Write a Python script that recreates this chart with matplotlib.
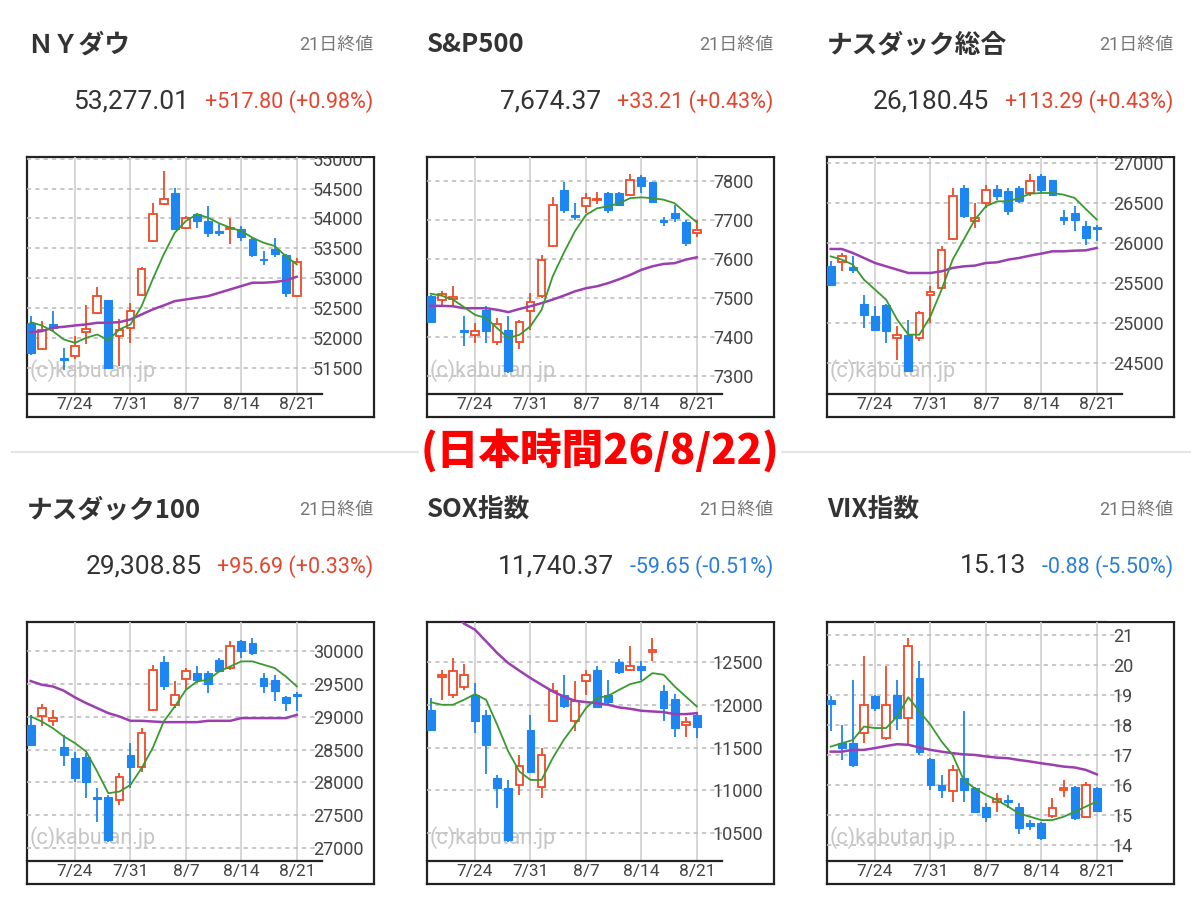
import matplotlib
matplotlib.use('Agg')
import matplotlib.pyplot as plt
from matplotlib.lines import Line2D
from matplotlib.patches import Rectangle
import numpy as np

plt.rcParams['font.family'] = ['Roboto', 'Noto Sans CJK JP', 'DejaVu Sans']
JP = ['Noto Sans CJK JP', 'DejaVu Sans']

W, H = 1200, 900

# ---- data -------------------------------------------------------------
dates = ['7/20', '7/21', '7/22', '7/23', '7/24', '7/27', '7/28', '7/29', '7/30', '7/31',
         '8/3', '8/4', '8/5', '8/6', '8/7', '8/10', '8/11', '8/12', '8/13', '8/14',
         '8/17', '8/18', '8/19', '8/20', '8/21']
tick_dates = ['7/24', '7/31', '8/7', '8/14', '8/21']

names = ['ＮＹダウ', 'S&P500', 'ナスダック総合', 'ナスダック100', 'SOX指数', 'VIX指数']
last_values = ['53,277.01', '7,674.37', '26,180.45', '29,308.85', '11,740.37', '15.13']
changes = ['+517.80 (+0.98%)', '+33.21 (+0.43%)', '+113.29 (+0.43%)',
           '+95.69 (+0.33%)', '-59.65 (-0.51%)', '-0.88 (-5.50%)']

# NY Dow
dow_open = [52250, 51820, 52240, 51660, 51694, 52096, 52420, 52633, 52030, 52170, 52717, 53622, 54237,
            54433, 53846, 54070, 53958, 53790, 53818, 53818, 53650, 53326, 53483, 53382, 52700]
dow_high = [52360, 52280, 52450, 51833, 52030, 52544, 52857, 52640, 52310, 52590, 53192, 54265, 54796,
            54517, 54047, 54100, 54210, 53902, 54014, 53874, 53678, 53455, 53678, 53400, 53343]
dow_low = [51720, 51800, 52110, 51470, 51640, 51890, 52393, 51490, 51537, 51906, 52700, 53610, 54220,
           53807, 53818, 53846, 53695, 53706, 53567, 53622, 53360, 53214, 53360, 52690, 52690]
dow_close = [51740, 52140, 52170, 51627, 51862, 52152, 52700, 51500, 52140, 52450, 53147, 54070, 54332,
             53830, 54014, 53958, 53762, 53750, 53846, 53695, 53382, 53298, 53399, 52759.21, 53277.01]
dow_ma5 = [52264, 52208, 52113, 51973, 51917, 52001, 52057, 51962, 52141, 52225, 52532, 52980, 53399,
           53762, 53958, 54070, 54014, 53919, 53846, 53790, 53678, 53594, 53539, 53371, 53231]
dow_ma25 = [52096, 52113, 52170, 52186, 52208, 52225, 52253, 52253, 52264, 52309, 52393, 52476, 52544,
            52616, 52644, 52672, 52700, 52756, 52812, 52868, 52924, 52924, 52935, 52963, 53024]
dow_ticks = [51500, 52000, 52500, 53000, 53500, 54000, 54500, 55000]
dow_ylim = (51060, 55030)

# S&P500
spx_open = [7504, 7496, 7498, 7419, 7406, 7470, 7387, 7419, 7389, 7466, 7504, 7632, 7776,
            7712, 7734, 7749, 7768, 7768, 7763, 7810, 7795, 7700, 7718, 7695, 7666]
spx_high = [7508, 7517, 7530, 7453, 7436, 7479, 7449, 7453, 7445, 7513, 7610, 7759, 7797,
            7742, 7768, 7771, 7770, 7771, 7817, 7814, 7797, 7708, 7738, 7700, 7700]
spx_low = [7436, 7483, 7479, 7377, 7385, 7385, 7381, 7309, 7370, 7419, 7500, 7630, 7718,
           7698, 7717, 7739, 7717, 7734, 7760, 7768, 7742, 7683, 7695, 7634, 7657]
spx_close = [7440, 7510, 7502, 7412, 7415, 7415, 7434, 7313, 7440, 7491, 7598, 7738, 7725,
             7708, 7755, 7752, 7725, 7738, 7802, 7785, 7744, 7693, 7704, 7641.16, 7674.37]
spx_ma5 = [7511, 7506, 7496, 7477, 7457, 7449, 7423, 7398, 7406, 7428, 7470, 7555, 7615,
           7670, 7712, 7729, 7734, 7742, 7755, 7757, 7755, 7751, 7742, 7717, 7693]
spx_ma25 = [7480, 7480, 7479, 7474, 7474, 7474, 7470, 7464, 7472, 7479, 7487, 7496, 7506,
            7517, 7525, 7530, 7538, 7548, 7559, 7572, 7581, 7587, 7589, 7598, 7604]
spx_ticks = [7300, 7400, 7500, 7600, 7700, 7800]
spx_ylim = (7255, 7860)

# Nasdaq composite
ixic_open = [25708, 25758, 25700, 25242, 25083, 25229, 24813, 24854, 24813, 25350, 25438, 26050, 26688,
             26271, 26500, 26675, 26646, 26688, 26625, 26842, 26783, 26321, 26375, 26208, 26200]
ixic_high = [25771, 25875, 25842, 25354, 25208, 25240, 24958, 25042, 25146, 25458, 25958, 26688, 26729,
             26500, 26729, 26729, 26688, 26708, 26867, 26867, 26792, 26417, 26458, 26271, 26229]
ixic_low = [25458, 25646, 25625, 24938, 24896, 24750, 24542, 24383, 24771, 25000, 25425, 26040, 26313,
            26188, 26438, 26542, 26354, 26500, 26583, 26625, 26583, 26229, 26146, 25979, 26021]
ixic_close = [25479, 25833, 25658, 25104, 24917, 24896, 24854, 24396, 25125, 25383, 25917, 26583, 26333,
              26313, 26667, 26583, 26396, 26521, 26771, 26667, 26604, 26283, 26292, 26067.16, 26180.45]
ixic_ma5 = [25833, 25792, 25729, 25542, 25417, 25292, 25042, 24854, 24854, 25083, 25417, 25792, 26042,
            26292, 26458, 26521, 26521, 26563, 26617, 26625, 26625, 26604, 26563, 26425, 26292]
ixic_ma25 = [25925, 25925, 25875, 25813, 25750, 25708, 25667, 25625, 25625, 25625, 25646, 25688, 25708,
             25717, 25750, 25758, 25792, 25813, 25842, 25867, 25896, 25896, 25904, 25908, 25938]
ixic_ticks = [24500, 25000, 25500, 26000, 26500, 27000]
ixic_ylim = (24112, 27075)

# Nasdaq 100
ndx_open = [28875, 29002, 28936, 28546, 28369, 28394, 27786, 27786, 27736, 28419, 28242, 29103, 29828,
            29179, 29574, 29661, 29661, 29863, 29737, 30152, 30117, 29585, 29559, 29290, 29346]
ndx_high = [29027, 29189, 29103, 28723, 28470, 28445, 27913, 27812, 28141, 28597, 28825, 29787, 29914,
            29534, 29737, 29762, 29686, 29889, 30142, 30167, 30193, 29661, 29635, 29306, 29372]
ndx_low = [28561, 28850, 28850, 28252, 28014, 27761, 27406, 27102, 27660, 27913, 28166, 29090, 29407,
           29129, 29407, 29509, 29357, 29680, 29712, 29889, 29940, 29357, 29240, 29078, 29078]
ndx_close = [28571, 29129, 28977, 28419, 28065, 28014, 27751, 27127, 28090, 28242, 28749, 29711, 29458,
             29331, 29696, 29559, 29493, 29696, 30066, 29990, 29965, 29458, 29382, 29213.16, 29308.85]
ndx_ma5 = [29002, 28926, 28825, 28698, 28597, 28470, 28166, 27837, 27862, 27963, 28217, 28521, 28926,
           29154, 29407, 29534, 29559, 29686, 29762, 29838, 29838, 29787, 29737, 29610, 29458]
ndx_ma25 = [29540, 29483, 29458, 29392, 29291, 29205, 29129, 29053, 29002, 28936, 28936, 28926, 28916,
            28916, 28916, 28916, 28936, 28936, 28936, 28977, 28977, 28977, 28977, 28977, 29027]
ndx_ticks = [27000, 27500, 28000, 28500, 29000, 29500, 30000]
ndx_ylim = (26808, 30436)

# SOX
sox_open = [11942, 12321, 12118, 12204, 12118, 11884, 11151, 11034, 11065, 11708, 11045, 11806, 12118,
            11806, 12282, 12410, 12118, 12500, 12410, 12449, 12617, 12157, 12071, 11767, 11884]
sox_high = [12079, 12410, 12547, 12477, 12254, 11942, 11182, 11123, 11416, 11884, 11494, 12254, 12352,
            12282, 12410, 12449, 12293, 12539, 12683, 12508, 12781, 12235, 12126, 11864, 11903]
sox_low = [11700, 12059, 12079, 12176, 11669, 11190, 10792, 10402, 10948, 11201, 10917, 11800, 11962,
           11689, 12118, 11960, 11993, 12360, 12400, 12293, 12508, 11814, 11619, 11619, 11611]
sox_close = [11708, 12352, 12391, 12352, 11806, 11533, 11034, 10421, 11291, 11221, 11416, 12157, 11981,
             12040, 12352, 11970, 12032, 12383, 12449, 12410, 12644, 11962, 11728, 11800.02, 11740.37]
sox_ma5 = [12032, 12001, 12001, 12059, 12126, 12059, 11767, 11455, 11221, 11123, 11123, 11377, 11591,
           11767, 11962, 12079, 12106, 12176, 12243, 12274, 12371, 12352, 12215, 12098, 11981]
sox_ma25 = [13310, 13200, 13080, 12950, 12878, 12742, 12605, 12488, 12399, 12313, 12235, 12157, 12098,
            12048, 12032, 12020, 12001, 11970, 11954, 11931, 11923, 11915, 11892, 11892, 11903]
sox_ticks = [10500, 11000, 11500, 12000, 12500]
sox_ylim = (10176, 12968)

# VIX
vix_open = [18.85, 17.39, 17.39, 17.73, 18.96, 17.56, 19.02, 18.23, 19.57, 16.87, 15.99, 15.79, 16.22,
            15.88, 15.27, 15.44, 15.49, 15.27, 14.71, 14.71, 14.97, 15.83, 15.94, 14.93, 15.88]
vix_high = [18.96, 18.01, 19.52, 20.30, 19.02, 19.97, 19.52, 20.92, 20.13, 16.90, 16.33, 16.67, 18.46,
            15.94, 15.38, 15.72, 15.66, 15.38, 14.82, 14.77, 15.55, 16.16, 15.97, 16.11, 15.94]
vix_low = [17.79, 16.83, 16.61, 17.39, 18.46, 17.51, 17.84, 17.34, 17.00, 15.83, 15.55, 15.44, 15.44,
           15.08, 14.77, 15.10, 15.21, 14.37, 14.49, 14.15, 14.88, 15.60, 14.82, 14.90, 15.10]
vix_close = [18.70, 17.23, 16.67, 18.68, 18.57, 18.68, 18.23, 20.64, 17.11, 15.99, 15.83, 16.50, 15.83,
             15.10, 14.93, 15.53, 15.44, 14.54, 14.63, 14.23, 15.23, 15.88, 14.88, 16.01, 15.13]
vix_ma5 = [17.28, 17.39, 17.50, 17.95, 17.90, 17.90, 18.29, 18.93, 18.46, 18.01, 17.45, 17.00, 16.16,
           15.88, 15.66, 15.49, 15.27, 15.04, 14.93, 14.82, 14.82, 14.93, 15.10, 15.27, 15.44]
vix_ma25 = [17.11, 17.11, 17.17, 17.17, 17.23, 17.30, 17.36, 17.34, 17.25, 17.17, 17.11, 17.06, 17.02,
            17.00, 16.95, 16.91, 16.89, 16.83, 16.78, 16.72, 16.67, 16.61, 16.58, 16.50, 16.35]
vix_ticks = [14, 15, 16, 17, 18, 19, 20, 21]
vix_ylim = (13.45, 21.45)

panels = [
    (dow_open, dow_high, dow_low, dow_close, dow_ma5, dow_ma25, dow_ticks, dow_ylim),
    (spx_open, spx_high, spx_low, spx_close, spx_ma5, spx_ma25, spx_ticks, spx_ylim),
    (ixic_open, ixic_high, ixic_low, ixic_close, ixic_ma5, ixic_ma25, ixic_ticks, ixic_ylim),
    (ndx_open, ndx_high, ndx_low, ndx_close, ndx_ma5, ndx_ma25, ndx_ticks, ndx_ylim),
    (sox_open, sox_high, sox_low, sox_close, sox_ma5, sox_ma25, sox_ticks, sox_ylim),
    (vix_open, vix_high, vix_low, vix_close, vix_ma5, vix_ma25, vix_ticks, vix_ylim),
]

# ---- styling / layout (pixels) ----------------------------------------
RED = '#ee4a26'
BLUE = '#1e86f0'
GREEN = '#3a9a2e'
PURPLE = '#9b3fb0'
UP_TXT = '#e4452e'
DOWN_TXT = '#2a80d8'

col_left = [27, 427, 827]
frame_w, plot_w = 347, 295
frame_top = [157, 622]
axis_y = [394, 861]
frame_bot = [417, 884]
title_y = [45, 510]
value_y = [108, 573]

fig = plt.figure(figsize=(12, 9), dpi=100, facecolor='white')

for i, (o, h, l, c, ma5, ma25, yt, yl) in enumerate(panels):
    row, col = divmod(i, 3)
    L = col_left[col]
    top, base, bot = frame_top[row], axis_y[row], frame_bot[row]

    frame = fig.add_axes([L / W, 1 - bot / H, frame_w / W, (bot - top) / H], zorder=0)
    frame.set_xticks([])
    frame.set_yticks([])
    for s in frame.spines.values():
        s.set_linewidth(1.6)
        s.set_color('#222222')

    ax = fig.add_axes([L / W, 1 - base / H, plot_w / W, (base - top) / H], zorder=1)
    ax.set_facecolor('none')
    x = np.arange(len(dates))
    o, h, l, c = map(np.asarray, (o, h, l, c))
    up = c >= o
    lo = np.minimum(o, c)
    hgt = np.abs(c - o)

    ax.vlines(x[up], l[up], h[up], color=RED, lw=1.3, zorder=2)
    ax.vlines(x[~up], l[~up], h[~up], color=BLUE, lw=1.3, zorder=2)
    ax.bar(x[up], hgt[up], bottom=lo[up], width=0.7, facecolor='white',
           edgecolor=RED, linewidth=1.3, zorder=3)
    ax.bar(x[~up], hgt[~up], bottom=lo[~up], width=0.7, color=BLUE,
           edgecolor=BLUE, linewidth=0.8, zorder=3)
    ax.plot(x, ma25, color=PURPLE, lw=1.8, zorder=4)
    ax.plot(x, ma5, color=GREEN, lw=1.3, zorder=5)

    ax.text(0.01, 0.10, '(c)kabutan.jp', transform=ax.transAxes, fontsize=15.5,
            color='#c6c6c6', ha='left', va='center', zorder=1)

    ax.set_xlim(-0.33, 26.27)
    ax.set_ylim(*yl)
    ax.set_xticks([dates.index(d) for d in tick_dates])
    ax.set_xticklabels(tick_dates)
    ax.set_yticks(yt)
    ax.set_yticklabels([f'{t:g}' for t in yt])
    ax.yaxis.tick_right()
    ax.tick_params(axis='x', length=0, pad=2, labelsize=12.5, labelcolor='#444444')
    ax.tick_params(axis='y', length=0, pad=-6.5, labelsize=13, labelcolor='#444444')
    ax.set_axisbelow(True)
    ax.grid(axis='x', color='#d0d0d0', lw=1.2)
    ax.grid(axis='y', color='#bdbdbd', lw=1.2, linestyle=(0, (2.5, 2.5)))
    for side in ('top', 'left', 'right'):
        ax.spines[side].set_visible(False)
    ax.spines['bottom'].set_linewidth(1.6)
    ax.spines['bottom'].set_color('#222222')

    # hide the part of the top tick label that sticks out above the frame
    fig.add_artist(Rectangle(((L + 280) / W, 1 - (top - 1) / H), 70 / W, 14 / H,
                             transform=fig.transFigure, facecolor='white',
                             edgecolor='none', zorder=3))

    # header
    fig.text(L / W, 1 - title_y[row] / H, names[i], family=JP, fontsize=18.5,
             fontweight='bold', color='#333333', ha='left', va='center')
    fig.text((L + 346) / W, 1 - title_y[row] / H, '21日終値', fontsize=13,
             color='#777777', ha='right', va='center')
    chg = fig.text((L + 346) / W, 1 - value_y[row] / H, changes[i], fontsize=15.5,
                   color=DOWN_TXT if changes[i].startswith('-') else UP_TXT,
                   ha='right', va='baseline')
    frame.annotate(last_values[i], xy=(0, 0), xycoords=chg, xytext=(-11, 0),
                   textcoords='offset points', fontsize=19, color='#333333',
                   ha='right', va='bottom', annotation_clip=False)

fig.add_artist(Line2D([12 / W, 1190 / W], [1 - 452 / H, 1 - 452 / H],
                      color='#e3e5e8', lw=1.5, zorder=0))
fig.text(0.5, 1 - 452 / H, '(日本時間26/8/22)', family=JP, fontsize=30,
         fontweight='heavy', color='#ff0000', ha='center', va='center',
         bbox=dict(facecolor='white', edgecolor='none', pad=1), zorder=5)

fig.savefig('out.png', dpi=100, facecolor='white')
